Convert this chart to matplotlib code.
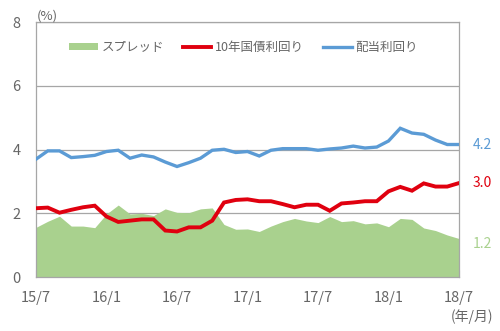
import matplotlib
matplotlib.use('Agg')
import matplotlib.pyplot as plt
from matplotlib.patches import Patch
from matplotlib.lines import Line2D
import numpy as np

plt.rcParams['font.family'] = ['Noto Sans CJK JP', 'DejaVu Sans']

# monthly data, 2015/7 .. 2018/7
months = np.arange(37)
tick_pos = [0, 6, 12, 18, 24, 30, 36]
tick_labels = ['15/7', '16/1', '16/7', '17/1', '17/7', '18/1', '18/7']

dividend = [3.70, 3.96, 3.96, 3.75, 3.78, 3.82, 3.94, 3.98, 3.73, 3.83,
            3.77, 3.61, 3.47, 3.59, 3.73, 3.98, 4.01, 3.91, 3.94, 3.80,
            3.98, 4.03, 4.03, 4.03, 3.98, 4.02, 4.05, 4.11, 4.05, 4.08,
            4.27, 4.67, 4.52, 4.48, 4.30, 4.16, 4.16]
jgb10 = [2.16, 2.18, 2.02, 2.11, 2.19, 2.24, 1.90, 1.73, 1.77, 1.81,
         1.81, 1.46, 1.43, 1.56, 1.56, 1.77, 2.34, 2.42, 2.44, 2.38,
         2.38, 2.29, 2.19, 2.27, 2.27, 2.08, 2.31, 2.34, 2.38, 2.38,
         2.69, 2.83, 2.71, 2.94, 2.84, 2.84, 2.95]
spread = [1.56, 1.75, 1.91, 1.60, 1.60, 1.55, 1.98, 2.26, 1.98, 2.00,
          1.93, 2.14, 2.03, 2.02, 2.14, 2.17, 1.65, 1.50, 1.51, 1.43,
          1.60, 1.74, 1.84, 1.76, 1.71, 1.90, 1.74, 1.77, 1.67, 1.70,
          1.58, 1.84, 1.81, 1.54, 1.46, 1.32, 1.21]

green = '#a9d18e'
red = '#e0000f'
blue = '#5b9bd5'
gray = '#666666'

fig = plt.figure(figsize=(5, 3.31), dpi=100)
ax = fig.add_axes([0.072, 0.163, 0.846, 0.770])

ax.fill_between(months, 0, spread, color=green, lw=0, zorder=2)
ax.plot(months, jgb10, color=red, lw=2.8, zorder=3, solid_joinstyle='miter')
ax.plot(months, dividend, color=blue, lw=2.4, zorder=3, solid_joinstyle='miter')

ax.set_xlim(0, 36)
ax.set_ylim(0, 8)
ax.set_yticks([0, 2, 4, 6, 8])
ax.set_xticks(tick_pos)
ax.set_xticklabels(tick_labels)
ax.yaxis.grid(True, color='#a6a6a6', lw=0.9, zorder=1)
ax.set_axisbelow(True)
ax.tick_params(axis='y', length=0, pad=11, labelsize=10.5, labelcolor=gray)
ax.tick_params(axis='x', direction='in', length=5, color='#a6a6a6',
               pad=10, labelsize=10.5, labelcolor=gray)
for s in ax.spines.values():
    s.set_color('#a6a6a6')
    s.set_linewidth(0.9)

# end labels
ax.annotate('4.2', (36, dividend[-1]), xytext=(10, 0), textcoords='offset points',
            color=blue, fontsize=10, va='center', annotation_clip=False)
ax.annotate('3.0', (36, jgb10[-1]), xytext=(10, 0), textcoords='offset points',
            color=red, fontsize=10, va='center', annotation_clip=False)
ax.annotate('1.2', (36, spread[-1]), xytext=(10, -4), textcoords='offset points',
            color=green, fontsize=10, va='center', annotation_clip=False)

fig.text(0.074, 0.952, '(%)', color=gray, fontsize=9.5, va='center')
fig.text(0.986, 0.042, '(年/月)', color=gray, fontsize=10, ha='right', va='center')

handles = [Patch(facecolor=green, edgecolor='none'),
           Line2D([], [], color=red, lw=2.8),
           Line2D([], [], color=blue, lw=2.4)]
ax.legend(handles, ['スプレッド', '10年国債利回り', '配当利回り'],
          loc='upper center', bbox_to_anchor=(0.49, 0.97), ncol=3, frameon=False,
          fontsize=9, handlelength=2.3, handleheight=0.55, handletextpad=0.3,
          columnspacing=1.5, labelcolor=gray)

fig.savefig('out.png', dpi=100)
